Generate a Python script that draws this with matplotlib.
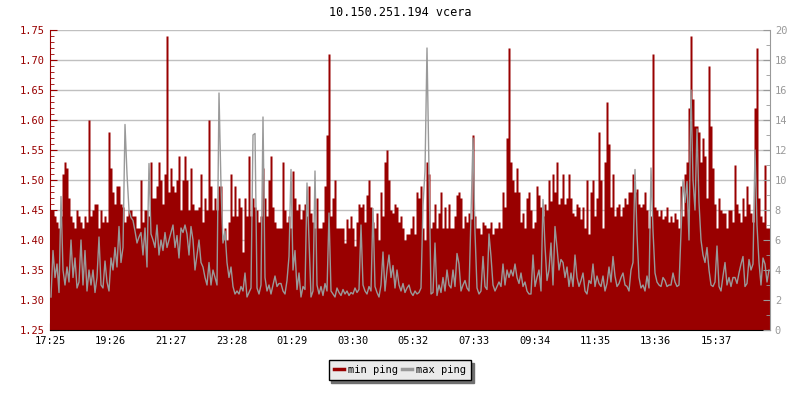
import numpy as np
import matplotlib
matplotlib.use("Agg")
import matplotlib.pyplot as plt
from matplotlib.lines import Line2D

plt.rcParams['font.family'] = ['DejaVu Sans Mono']

# one sample every 4 minutes, starting 17:25
min_ping = [
    1.45, 1.45, 1.44, 1.43, 1.42, 1.44, 1.51, 1.53, 1.52, 1.47,
    1.44, 1.43, 1.42, 1.45, 1.44, 1.43, 1.42, 1.44, 1.43, 1.60,
    1.44, 1.45, 1.46, 1.46, 1.42, 1.45, 1.43, 1.44, 1.43, 1.58,
    1.52, 1.48, 1.46, 1.49, 1.49, 1.46, 1.455, 1.43, 1.44, 1.45,
    1.45, 1.44, 1.44, 1.42, 1.42, 1.50, 1.43, 1.45, 1.45, 1.44,
    1.53, 1.47, 1.47, 1.49, 1.53, 1.50, 1.46, 1.51, 1.74, 1.48,
    1.52, 1.49, 1.48, 1.50, 1.54, 1.45, 1.50, 1.54, 1.50, 1.45,
    1.52, 1.46, 1.45, 1.45, 1.455, 1.51, 1.43, 1.47, 1.45, 1.60,
    1.49, 1.45, 1.47, 1.45, 1.49, 1.49, 1.40, 1.42, 1.40, 1.43,
    1.51, 1.44, 1.49, 1.44, 1.47, 1.455, 1.38, 1.47, 1.44, 1.54,
    1.44, 1.47, 1.455, 1.45, 1.43, 1.44, 1.52, 1.47, 1.44, 1.50,
    1.54, 1.455, 1.43, 1.42, 1.42, 1.42, 1.53, 1.45, 1.43, 1.44,
    1.42, 1.515, 1.47, 1.45, 1.46, 1.435, 1.45, 1.46, 1.44, 1.49,
    1.445, 1.43, 1.42, 1.47, 1.42, 1.42, 1.43, 1.49, 1.575, 1.71,
    1.44, 1.47, 1.50, 1.42, 1.42, 1.42, 1.42, 1.395, 1.435, 1.42,
    1.44, 1.42, 1.39, 1.43, 1.46, 1.455, 1.46, 1.43, 1.475, 1.50,
    1.455, 1.43, 1.42, 1.445, 1.40, 1.48, 1.44, 1.53, 1.55, 1.50,
    1.45, 1.445, 1.46, 1.455, 1.43, 1.44, 1.42, 1.40, 1.41, 1.41,
    1.42, 1.44, 1.41, 1.48, 1.47, 1.49, 1.42, 1.40, 1.53, 1.51,
    1.42, 1.43, 1.46, 1.42, 1.445, 1.48, 1.42, 1.455, 1.42, 1.46,
    1.42, 1.42, 1.44, 1.475, 1.48, 1.47, 1.42, 1.44, 1.43, 1.445,
    1.435, 1.575, 1.44, 1.42, 1.42, 1.41, 1.43, 1.425, 1.42, 1.42,
    1.43, 1.41, 1.42, 1.42, 1.43, 1.42, 1.48, 1.455, 1.57, 1.72,
    1.53, 1.50, 1.48, 1.52, 1.48, 1.43, 1.445, 1.42, 1.47, 1.48,
    1.45, 1.42, 1.43, 1.49, 1.475, 1.455, 1.44, 1.46, 1.45, 1.50,
    1.465, 1.51, 1.48, 1.53, 1.46, 1.47, 1.51, 1.46, 1.47, 1.51,
    1.47, 1.445, 1.44, 1.46, 1.455, 1.435, 1.455, 1.42, 1.50, 1.41,
    1.48, 1.50, 1.44, 1.47, 1.58, 1.50, 1.42, 1.53, 1.63, 1.56,
    1.455, 1.51, 1.44, 1.455, 1.46, 1.44, 1.455, 1.47, 1.46, 1.48,
    1.48, 1.51, 1.48, 1.485, 1.46, 1.455, 1.46, 1.48, 1.45, 1.42,
    1.44, 1.71, 1.455, 1.45, 1.44, 1.45, 1.435, 1.44, 1.455, 1.43,
    1.44, 1.43, 1.445, 1.435, 1.42, 1.49, 1.44, 1.51, 1.53, 1.62,
    1.74, 1.635, 1.59, 1.59, 1.58, 1.53, 1.57, 1.54, 1.47, 1.69,
    1.59, 1.52, 1.46, 1.42, 1.47, 1.45, 1.445, 1.445, 1.42, 1.45,
    1.45, 1.43, 1.525, 1.46, 1.445, 1.43, 1.47, 1.44, 1.49, 1.46,
    1.445, 1.43, 1.62, 1.72, 1.47, 1.44, 1.43, 1.525, 1.42, 1.42,
]

max_ping = [
    2.2, 5.3, 3.5, 4.4, 2.5, 8.9, 4.0, 3.0, 4.2, 3.2,
    6.0, 3.5, 4.8, 2.8, 3.2, 6.0, 3.0, 5.3, 2.6, 4.0,
    3.0, 4.0, 2.5, 3.5, 6.2, 3.0, 2.8, 4.6, 3.2, 2.6,
    4.8, 4.0, 5.5, 4.2, 6.9, 4.5, 5.5, 13.7, 10.4, 8.0,
    7.5, 7.3, 6.6, 5.8, 6.2, 6.5, 5.0, 6.8, 4.2, 11.1,
    6.4, 6.0, 5.5, 7.0, 5.0, 6.0, 5.3, 6.5, 5.5, 6.0,
    6.5, 7.0, 5.5, 6.3, 4.8, 6.8, 6.5, 7.0, 6.4, 5.0,
    6.9, 6.0, 4.0, 5.0, 6.0, 4.5, 4.2, 3.5, 3.0, 4.5,
    3.0, 4.0, 3.5, 3.0, 15.8, 9.6, 5.8, 6.6, 4.5, 3.5,
    4.2, 2.9, 2.4, 2.6, 2.4, 2.9, 2.6, 3.8, 2.2, 2.5,
    2.8, 13.0, 13.1, 2.8, 2.4, 3.0, 14.2, 3.5, 2.6, 3.0,
    2.4, 3.0, 3.6, 2.9, 3.1, 3.1, 2.6, 2.4, 3.3, 4.9,
    10.7, 4.0, 5.3, 2.7, 3.8, 2.2, 2.9, 2.7, 9.8, 6.0,
    2.2, 2.6, 10.6, 3.0, 2.4, 2.9, 2.3, 3.1, 2.6, 7.8,
    2.6, 2.4, 2.2, 2.8, 2.5, 2.3, 2.7, 2.4, 2.6, 2.3,
    2.5, 2.4, 2.8, 2.5, 2.7, 7.0, 3.0, 2.6, 2.4, 2.9,
    2.6, 8.1, 2.9, 2.5, 2.2, 3.0, 5.2, 2.6, 4.0, 5.0,
    3.5, 4.3, 2.8, 4.0, 3.0, 2.6, 3.1, 2.5, 2.8, 3.0,
    2.5, 2.3, 2.6, 2.4, 2.5, 2.8, 8.3, 10.6, 18.8, 10.7,
    2.4, 2.5, 5.8, 2.3, 3.0, 2.5, 3.5, 2.6, 4.0, 3.0,
    2.8, 4.0, 2.9, 5.1, 4.4, 2.6, 3.0, 3.3, 2.8, 2.6,
    7.6, 12.8, 6.5, 2.8, 2.4, 2.6, 4.9, 2.9, 2.7, 6.4,
    4.9, 3.0, 2.6, 2.9, 3.2, 2.9, 4.4, 3.0, 4.0, 3.5,
    4.0, 3.6, 4.4, 3.5, 3.1, 3.8, 2.9, 3.2, 2.6, 2.4,
    2.4, 5.0, 2.9, 3.5, 4.0, 2.6, 8.7, 5.6, 3.3, 4.0,
    5.8, 3.0, 6.9, 5.5, 4.0, 4.7, 4.5, 3.5, 4.2, 2.9,
    3.8, 2.9, 5.0, 3.5, 2.9, 3.3, 3.8, 2.6, 2.4, 3.3,
    3.1, 4.4, 2.9, 3.6, 3.1, 2.9, 3.6, 2.6, 3.1, 4.2,
    3.2, 4.9, 3.6, 2.9, 3.1, 3.5, 3.8, 3.0, 2.9, 2.6,
    4.0, 4.5, 10.7, 6.4, 3.5, 2.8, 3.0, 2.6, 3.6, 2.8,
    10.8, 6.6, 3.8, 3.2, 3.0, 2.9, 3.5, 3.3, 2.9, 3.0,
    3.0, 3.8, 3.2, 2.9, 3.0, 6.5, 10.0, 8.5, 9.9, 6.0,
    16.0, 10.0, 8.0, 13.4, 8.5, 6.0, 5.0, 4.5, 5.5, 4.0,
    3.0, 2.9, 3.2, 5.6, 2.9, 2.6, 3.6, 4.5, 3.0, 3.5,
    2.9, 3.5, 3.5, 3.1, 3.8, 4.4, 4.9, 2.9, 3.1, 4.7,
    4.0, 4.4, 12.0, 7.0, 4.5, 3.0, 4.8, 4.4, 3.2, 4.0,
]

time_labels = ["17:25", "19:26", "21:27", "23:28", "01:29", "03:30",
               "05:32", "07:33", "09:34", "11:35", "13:36", "15:37"]
tick_minutes = [0, 121, 242, 363, 484, 605, 727, 848, 969, 1090, 1211, 1332]

RED = '#990000'
GREY = '#999999'

step = 1440 / len(min_ping)
minutes = np.arange(len(min_ping) + 1) * step
mp = np.append(min_ping, min_ping[-1])
# grey line drawn through sample centres so single spikes stay thin
grey_x = (np.arange(len(max_ping)) + 0.5) * step

fig = plt.figure(figsize=(8, 4), dpi=100)
ax = fig.add_axes([0.0625, 0.175, 0.9, 0.75])
ax2 = ax.twinx()

ax.fill_between(minutes, 1.25, mp, step='post', color=RED, lw=0)
ax2.plot(grey_x, max_ping, color=GREY, lw=1.0)

ax.set_xlim(0, 1440)
ax.set_ylim(1.25, 1.75)
ax2.set_ylim(0, 20)

ax.set_yticks(np.arange(1.25, 1.751, 0.05))
ax.set_yticks(np.arange(1.25, 1.751, 0.01), minor=True)
ax.set_yticklabels([f"{v:.2f}" for v in np.arange(1.25, 1.751, 0.05)])
ax2.set_yticks(np.arange(0, 21, 2))
ax2.set_yticks(np.arange(0, 21, 1), minor=True)
ax.set_xticks(tick_minutes)
ax.set_xticklabels(time_labels)

ax.grid(axis='y', color='#c0c0c0', lw=1)
ax.set_axisbelow(True)

for a in (ax, ax2):
    a.spines['top'].set_visible(False)
ax.spines['right'].set_visible(False)
ax2.spines['left'].set_visible(False)
ax2.spines['bottom'].set_visible(False)
ax.spines['left'].set_color(RED)
ax2.spines['right'].set_color(GREY)

ax.tick_params(axis='y', which='both', direction='in', colors=RED, labelsize=7.5)
ax.tick_params(axis='y', which='major', length=5)
ax.tick_params(axis='y', which='minor', length=3)
ax.tick_params(axis='x', direction='in', length=5, labelsize=7.5, pad=4)
ax2.tick_params(axis='y', which='both', direction='in', colors=GREY, labelsize=7.5)
ax2.tick_params(axis='y', which='major', length=5)
ax2.tick_params(axis='y', which='minor', length=3)

fig.text(0.5, 0.968, "10.150.251.194 vcera", ha='center', va='center', fontsize=8.5)

handles = [Line2D([], [], color=RED, lw=2.5), Line2D([], [], color=GREY, lw=2.5)]
leg = fig.legend(handles, ["min ping", "max ping"], loc='center', bbox_to_anchor=(0.5, 0.075),
                 ncol=2, fontsize=7.5, frameon=True, fancybox=False, handlelength=1.0,
                 handletextpad=0.4, columnspacing=0.3, borderpad=0.5,
                 shadow={'color': '#707070', 'alpha': 1})
leg.get_frame().set_facecolor('#eaeaea')
leg.get_frame().set_edgecolor('black')
leg.get_frame().set_alpha(1)

fig.savefig("out.png", dpi=100)
